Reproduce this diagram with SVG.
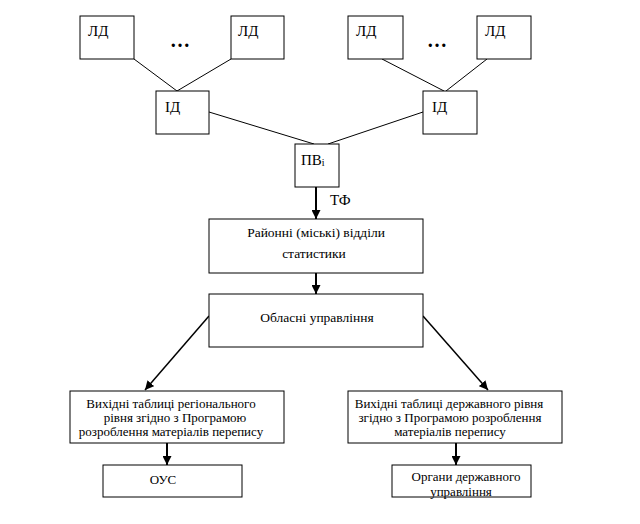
<svg xmlns="http://www.w3.org/2000/svg" width="640" height="524" viewBox="0 0 640 524" font-family="'Liberation Serif', 'DejaVu Serif', serif">
<style>
.box{fill:#fff;stroke:#000;stroke-width:1}
text{font-family:'Liberation Serif','DejaVu Serif',serif;fill:#000}
.lbl{font-size:15px}
.m{font-size:13.5px;text-anchor:middle}
.s{font-size:13px;text-anchor:middle}
.ln{stroke:#000;stroke-width:1;fill:none}
.ar{stroke:#000;stroke-width:2;fill:none;marker-end:url(#ah)}
.ard{stroke:#000;stroke-width:1.5;fill:none;marker-end:url(#ah)}
</style>
<defs>
<marker id="ah" markerUnits="userSpaceOnUse" markerWidth="9" markerHeight="9" viewBox="0 0 10 10" refX="10" refY="5" orient="auto">
<path d="M0,0 L10,5 L0,10 z" fill="#000"/>
</marker>
</defs>
<rect width="640" height="524" fill="#fff"/>
<g id="connectors">
<line class="ln" x1="134" y1="59" x2="177" y2="91"/>
<line class="ln" x1="231" y1="59" x2="177" y2="91"/>
<line class="ln" x1="382" y1="59" x2="444" y2="91"/>
<line class="ln" x1="487" y1="59" x2="446" y2="91"/>
<line class="ln" x1="209" y1="112" x2="314" y2="144"/>
<line class="ln" x1="423" y1="112" x2="328" y2="144"/>
<line class="ar" x1="316" y1="187" x2="316" y2="219"/>
<line class="ar" x1="316" y1="273" x2="316" y2="294"/>
<line class="ard" x1="209" y1="316" x2="145" y2="390"/>
<line class="ard" x1="423" y1="316" x2="488" y2="390"/>
<line class="ar" x1="167" y1="443" x2="167" y2="465"/>
<line class="ar" x1="456" y1="443" x2="456" y2="465"/>
</g>
<g id="ld1"><rect class="box" x="80" y="16" width="54" height="43"/><text class="lbl" x="88" y="36">ЛД</text></g>
<g id="dots1"><text x="170" y="47" font-size="20" font-weight="bold">…</text></g>
<g id="ld2"><rect class="box" x="231" y="16" width="53" height="43"/><text class="lbl" x="238" y="36">ЛД</text></g>
<g id="ld3"><rect class="box" x="348" y="16" width="55" height="43"/><text class="lbl" x="356" y="36">ЛД</text></g>
<g id="dots2"><text x="427" y="47" font-size="20" font-weight="bold">…</text></g>
<g id="ld4"><rect class="box" x="477" y="16" width="54" height="43"/><text class="lbl" x="485" y="36">ЛД</text></g>
<g id="id1"><rect class="box" x="156" y="91" width="53" height="43"/><text class="lbl" x="165" y="112">ІД</text></g>
<g id="id2"><rect class="box" x="423" y="91" width="54" height="43"/><text class="lbl" x="432" y="112">ІД</text></g>
<g id="pv"><rect class="box" x="295" y="144" width="44" height="43"/><text class="lbl" x="301" y="165">ПВ<tspan font-size="10" dy="1">і</tspan></text></g>
<g id="tf"><text class="lbl" x="330" y="205">ТФ</text></g>
<g id="raion"><rect class="box" x="209" y="219" width="214" height="54"/><text class="m" x="316" y="237">Районні (міські) відділи</text><text class="m" x="314" y="258">статистики</text></g>
<g id="obl"><rect class="box" x="209" y="294" width="214" height="53"/><text class="m" x="317" y="322">Обласні управління</text></g>
<g id="reg"><rect class="box" x="70" y="391" width="214" height="52"/><text class="s" x="171" y="408">Вихідні таблиці регіонального</text><text class="s" x="175" y="422">рівня згідно з Програмою</text><text class="s" x="171" y="436">розроблення матеріалів перепису</text></g>
<g id="derzh"><rect class="box" x="348" y="391" width="214" height="52"/><text class="s" x="449" y="408">Вихідні таблиці державного рівня</text><text class="s" x="450" y="422">згідно з Програмою розроблення</text><text class="s" x="450" y="436">матеріалів перепису</text></g>
<g id="ous"><rect class="box" x="103" y="465" width="139" height="32"/><text class="s" x="163" y="484">ОУС</text></g>
<g id="organy"><rect class="box" x="392" y="465" width="139" height="32"/><text class="s" x="466" y="481">Органи державного</text><text class="s" x="461" y="496">управління</text></g>
</svg>
